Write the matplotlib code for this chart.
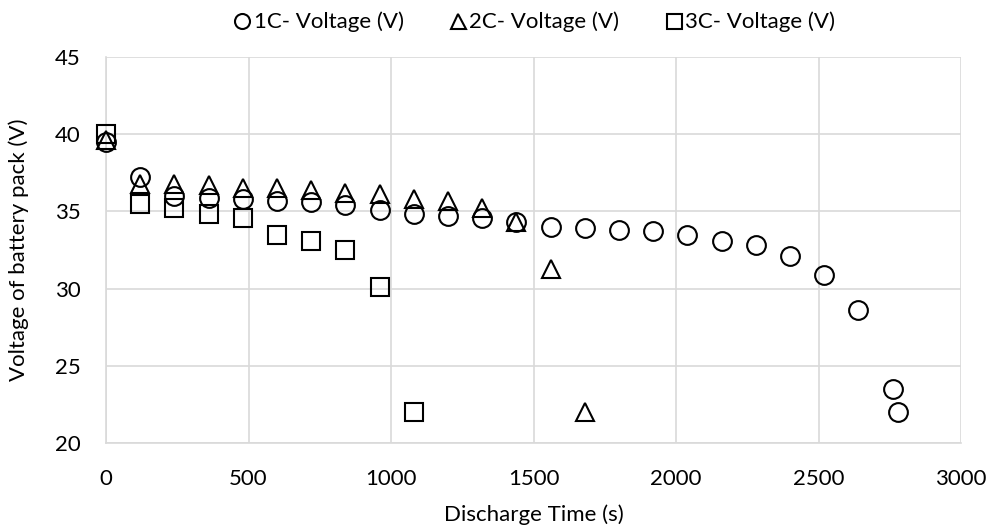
import matplotlib.pyplot as plt

# discharge time (s) and pack voltage (V) for each C-rate
t_1c = [0, 120, 240, 360, 480, 600, 720, 840, 960, 1080, 1200, 1320, 1440,
        1560, 1680, 1800, 1920, 2040, 2160, 2280, 2400, 2520, 2640, 2760, 2780]
v_1c = [39.5, 37.2, 36.0, 35.9, 35.8, 35.7, 35.6, 35.4, 35.1, 34.8, 34.7, 34.6, 34.3,
        34.0, 33.9, 33.8, 33.7, 33.5, 33.1, 32.8, 32.1, 30.9, 28.6, 23.5, 22.0]

t_2c = [0, 120, 240, 360, 480, 600, 720, 840, 960, 1080, 1200, 1320, 1440, 1560, 1680]
v_2c = [39.6, 36.8, 36.8, 36.7, 36.5, 36.5, 36.4, 36.2, 36.1, 35.8, 35.7, 35.2, 34.3, 31.3, 22.0]

t_3c = [0, 120, 240, 360, 480, 600, 720, 840, 960, 1080]
v_3c = [40.0, 35.5, 35.2, 34.8, 34.6, 33.5, 33.1, 32.5, 30.1, 22.0]

plt.rcParams['font.family'] = ['Lato', 'DejaVu Sans']

fig = plt.figure(figsize=(9.88, 5.28), dpi=100)
ax = fig.add_axes([106 / 988, 1 - 443 / 528, 855 / 988, 386 / 528])

style = dict(linestyle='none', markerfacecolor='none', markeredgecolor='black',
             markeredgewidth=1.5, markersize=13.5, clip_on=False, zorder=3)
ax.plot(t_1c, v_1c, marker='o', label='1C- Voltage (V)', **style)
ax.plot(t_2c, v_2c, marker='^', label='2C- Voltage (V)', **style)
ax.plot(t_3c, v_3c, marker='s', label='3C- Voltage (V)', **style)

ax.set_xlim(0, 3000)
ax.set_ylim(20, 45)
ax.set_xticks(range(0, 3001, 500))
ax.set_yticks(range(20, 46, 5))
ax.grid(True, color='#d9d9d9', linewidth=1.2)
ax.set_axisbelow(True)
for side in ['top', 'right']:
    ax.spines[side].set_visible(False)
for side in ['left', 'bottom']:
    ax.spines[side].set_color('#d9d9d9')
    ax.spines[side].set_linewidth(1.2)
ax.tick_params(axis='x', length=0, labelsize=16, pad=19)
ax.tick_params(axis='y', length=0, labelsize=16, pad=18)

ax.set_xlabel('Discharge Time (s)', fontsize=16, va='center')
ax.set_ylabel('Voltage of battery pack (V)', fontsize=16, va='center')
ax.xaxis.set_label_coords(0.5, (443 - 515) / 386)
ax.yaxis.set_label_coords((19 - 106) / 855, 0.5)

fig.legend(loc='center', bbox_to_anchor=(533.5 / 988, 1 - 22 / 528), ncol=3, frameon=False,
           fontsize=16, handletextpad=0.05, columnspacing=2.0, markerscale=0.8,
           handlelength=0.9)

fig.savefig('out.png', dpi=100)
